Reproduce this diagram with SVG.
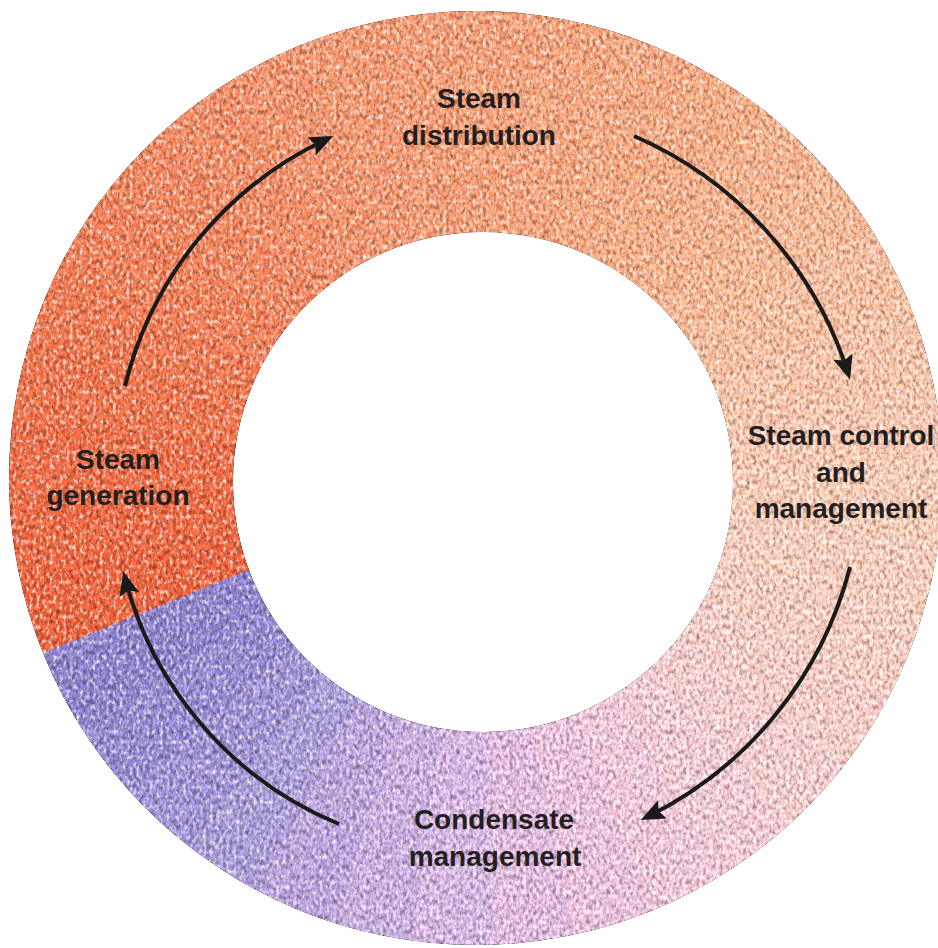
<svg xmlns="http://www.w3.org/2000/svg" width="938" height="948" viewBox="0 0 938 948">
<style>
.lbl{font-family:"Liberation Sans",Arial,Helvetica,sans-serif;font-weight:bold;font-size:28px;fill:#231f20;text-anchor:middle}
.arr{fill:none;stroke:#1a1a1a;stroke-width:4;marker-end:url(#ah)}
.w path{stroke-width:2}
</style>
<defs>
<marker id="ah" markerUnits="userSpaceOnUse" markerWidth="26" markerHeight="22" refX="17" refY="10" orient="auto" viewBox="0 0 26 22">
<path d="M0,0 L24,10 L0,20 L4,10 Z" fill="#1a1a1a"/>
</marker>
<mask id="ringMask" maskUnits="userSpaceOnUse" x="0" y="0" width="938" height="948">
<circle cx="476" cy="478" r="467" fill="#fff"/>
<circle cx="483" cy="482" r="250" fill="#000"/>
</mask>
<filter id="grain" filterUnits="userSpaceOnUse" x="0" y="0" width="938" height="948" color-interpolation-filters="sRGB">
<feTurbulence type="fractalNoise" baseFrequency="0.3 0.2" numOctaves="2" seed="7" result="n"/>
<feColorMatrix in="n" type="matrix" values="1 0 0 0 0  1 0 0 0 0  1 0 0 0 0  0 0 0 0 1" result="g"/>
<feComposite in="SourceGraphic" in2="g" operator="arithmetic" k1="1.0" k2="0.5" k3="0" k4="0" result="mod"/>
<feColorMatrix in="n" type="matrix" values="0 0 0 0 1  0 0 0 0 1  0 0 0 0 1  0 2.4 0 0 -1.15" result="wh"/>
<feComposite in="wh" in2="SourceAlpha" operator="in" result="whc"/>
<feMerge><feMergeNode in="mod"/><feMergeNode in="whc"/></feMerge>
</filter>
</defs>
<rect width="938" height="948" fill="#fff"/>
<g id="ring" filter="url(#grain)">
<g mask="url(#ringMask)" class="w">
<path d="M476,478 L-6.1,672.8 L-32.6,586.1 Z" fill="#e45a34" stroke="#e45a34"/>
<path d="M476,478 L-32.6,586.1 L-43.7,496.1 Z" fill="#e65e38" stroke="#e65e38"/>
<path d="M476,478 L-43.7,496.1 L-39,405.6 Z" fill="#e7623c" stroke="#e7623c"/>
<path d="M476,478 L-39,405.6 L-18.6,317.3 Z" fill="#e86840" stroke="#e86840"/>
<path d="M476,478 L-18.6,317.3 L16.9,233.9 Z" fill="#e96e46" stroke="#e96e46"/>
<path d="M476,478 L16.9,233.9 L66.2,157.8 Z" fill="#ea744c" stroke="#ea744c"/>
<path d="M476,478 L66.2,157.8 L128.1,91.6 Z" fill="#eb7a52" stroke="#eb7a52"/>
<path d="M476,478 L128.1,91.6 L200.5,37 Z" fill="#ec8058" stroke="#ec8058"/>
<path d="M476,478 L200.5,37 L281.2,-4.1 Z" fill="#ed865e" stroke="#ed865e"/>
<path d="M476,478 L281.2,-4.1 L367.9,-30.6 Z" fill="#ee8c64" stroke="#ee8c64"/>
<path d="M476,478 L367.9,-30.6 L457.9,-41.7 Z" fill="#ef9068" stroke="#ef9068"/>
<path d="M476,478 L457.9,-41.7 L548.4,-37 Z" fill="#ef946c" stroke="#ef946c"/>
<path d="M476,478 L548.4,-37 L636.7,-16.6 Z" fill="#f09870" stroke="#f09870"/>
<path d="M476,478 L636.7,-16.6 L720.1,18.9 Z" fill="#f09c74" stroke="#f09c74"/>
<path d="M476,478 L720.1,18.9 L796.2,68.2 Z" fill="#f1a078" stroke="#f1a078"/>
<path d="M476,478 L796.2,68.2 L862.4,130.1 Z" fill="#f2a680" stroke="#f2a680"/>
<path d="M476,478 L862.4,130.1 L917,202.5 Z" fill="#f2ac88" stroke="#f2ac88"/>
<path d="M476,478 L917,202.5 L958.1,283.2 Z" fill="#f3b292" stroke="#f3b292"/>
<path d="M476,478 L958.1,283.2 L984.6,369.9 Z" fill="#f4b89c" stroke="#f4b89c"/>
<path d="M476,478 L984.6,369.9 L995.7,459.9 Z" fill="#f4bca4" stroke="#f4bca4"/>
<path d="M476,478 L995.7,459.9 L991,550.4 Z" fill="#f4c0aa" stroke="#f4c0aa"/>
<path d="M476,478 L991,550.4 L970.6,638.7 Z" fill="#f4c2b0" stroke="#f4c2b0"/>
<path d="M476,478 L970.6,638.7 L935.1,722.1 Z" fill="#f3c2b6" stroke="#f3c2b6"/>
<path d="M476,478 L935.1,722.1 L885.8,798.2 Z" fill="#f2c2bc" stroke="#f2c2bc"/>
<path d="M476,478 L885.8,798.2 L823.9,864.4 Z" fill="#f0c2c4" stroke="#f0c2c4"/>
<path d="M476,478 L823.9,864.4 L751.5,919 Z" fill="#eec0ca" stroke="#eec0ca"/>
<path d="M476,478 L751.5,919 L670.8,960.1 Z" fill="#eabccf" stroke="#eabccf"/>
<path d="M476,478 L670.8,960.1 L584.1,986.6 Z" fill="#e2b6d2" stroke="#e2b6d2"/>
<path d="M476,478 L584.1,986.6 L494.1,997.7 Z" fill="#d8b0d6" stroke="#d8b0d6"/>
<path d="M476,478 L494.1,997.7 L403.6,993 Z" fill="#ccaad8" stroke="#ccaad8"/>
<path d="M476,478 L403.6,993 L315.3,972.6 Z" fill="#bea2d6" stroke="#bea2d6"/>
<path d="M476,478 L315.3,972.6 L231.9,937.1 Z" fill="#b098d2" stroke="#b098d2"/>
<path d="M476,478 L231.9,937.1 L155.8,887.8 Z" fill="#a290ce" stroke="#a290ce"/>
<path d="M476,478 L155.8,887.8 L89.6,825.9 Z" fill="#9686ca" stroke="#9686ca"/>
<path d="M476,478 L89.6,825.9 L35,753.5 Z" fill="#8c7ec6" stroke="#8c7ec6"/>
<path d="M476,478 L35,753.5 L-6.1,672.8 Z" fill="#8478c2" stroke="#8478c2"/>
<path d="M476,478 L-6.1,672.8 L-32.6,586.1 Z" fill="#e45a34" stroke="none"/>
</g>
</g>
<g id="connectors">
<path class="arr" d="M125,386 A370,370 0 0 1 327,139"/>
<path class="arr" d="M634,136 A385,385 0 0 1 848,373"/>
<path class="arr" d="M850,567 A385,385 0 0 1 647,817"/>
<path class="arr" d="M339,824 A365,365 0 0 1 125,578"/>
</g>
<g id="node-distribution"><text class="lbl" x="479" y="108">Steam</text><text class="lbl" x="479" y="145">distribution</text></g>
<g id="node-control"><text class="lbl" x="841" y="445">Steam control</text><text class="lbl" x="841" y="482">and</text><text class="lbl" x="841" y="518">management</text></g>
<g id="node-condensate"><text class="lbl" x="494" y="829">Condensate</text><text class="lbl" x="495" y="866">management</text></g>
<g id="node-generation"><text class="lbl" x="118" y="469">Steam</text><text class="lbl" x="118" y="505">generation</text></g>
</svg>
